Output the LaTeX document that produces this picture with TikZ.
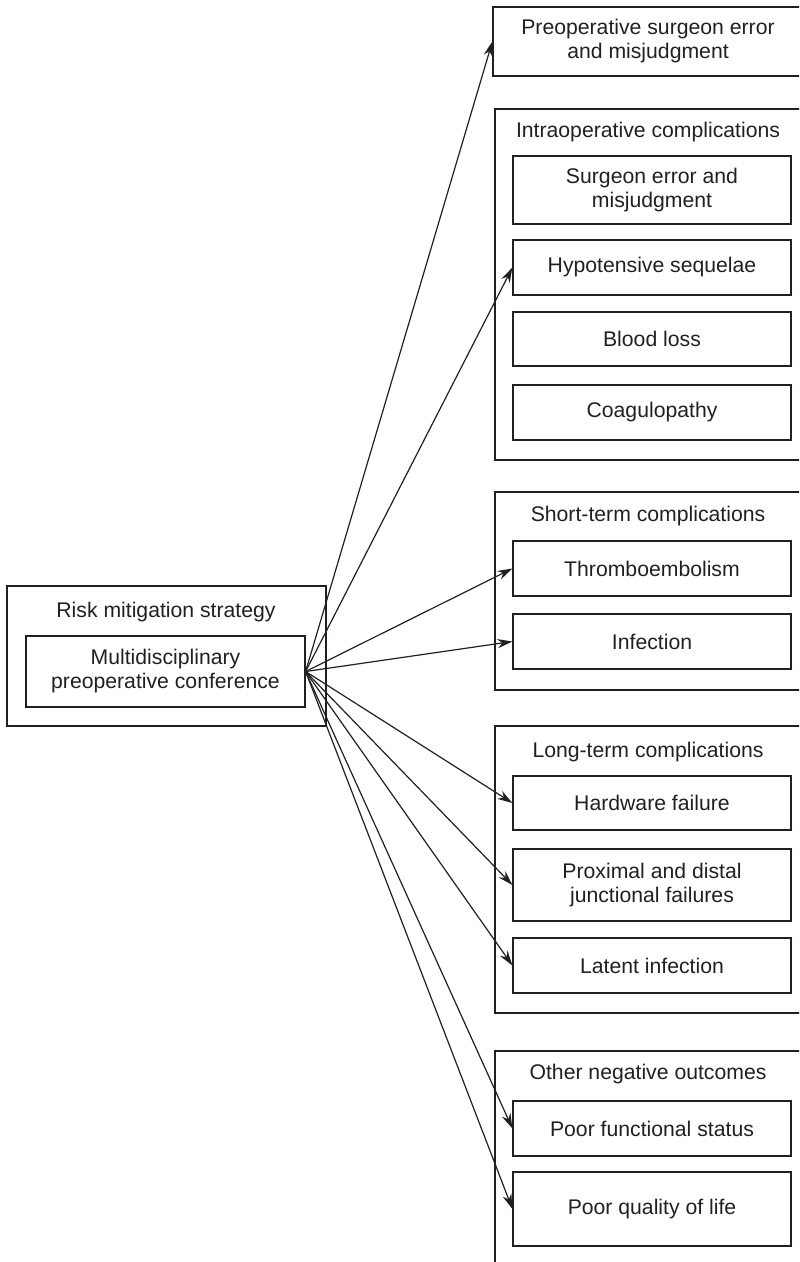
\documentclass[tikz,border=0pt]{standalone}
\usepackage{fontspec}
\setmainfont{Liberation Sans}
\usetikzlibrary{arrows.meta}
\definecolor{ink}{HTML}{231F20}
\begin{document}
\begin{tikzpicture}[x=0.5pt,y=-0.5pt,
  every node/.style={font=\fontsize{10.6}{12}\selectfont, text=ink},
  box/.style={draw=ink, line width=0.6pt, rectangle, inner sep=0pt, align=center},
  grp/.style={draw=ink, line width=0.6pt, rectangle, inner sep=0pt},
  ttl/.style={inner sep=0pt, anchor=center},
  arr/.style={draw=ink, line width=0.6pt, -{Stealth[length=7.5pt,width=4.6pt]}}]
\useasboundingbox (0,0) rectangle (799,1262);
\clip (0,0) rectangle (799,1262);
% left
\node[grp, minimum width=319*0.5pt, minimum height=140*0.5pt] (risk) at (166.5,656) {};
\node[ttl] (risktitle) at (166,612) {Risk mitigation strategy};
\node[box, minimum width=279*0.5pt, minimum height=71*0.5pt] (conf) at (165.5,671.5) {Multidisciplinary\\preoperative conference};
% preop
\node[box, minimum width=310*0.5pt, minimum height=69*0.5pt] (preop) at (648,41.5) {Preoperative surgeon error\\and misjudgment};
% intraop
\node[grp, minimum width=314*0.5pt, minimum height=351*0.5pt] (intra) at (652,284.5) {};
\node[ttl] (intratitle) at (648,132) {Intraoperative complications};
\node[box, minimum width=278*0.5pt, minimum height=68*0.5pt] (surg) at (652,190) {Surgeon error and\\misjudgment};
\node[box, minimum width=278*0.5pt, minimum height=55*0.5pt] (hypo) at (652,267.5) {Hypotensive sequelae};
\node[box, minimum width=278*0.5pt, minimum height=54*0.5pt] (blood) at (652,339) {Blood loss};
\node[box, minimum width=278*0.5pt, minimum height=55*0.5pt] (coag) at (652,412.5) {Coagulopathy};
% short
\node[grp, minimum width=314*0.5pt, minimum height=198*0.5pt] (short) at (652,591) {};
\node[ttl] (shorttitle) at (648,516) {Short-term complications};
\node[box, minimum width=278*0.5pt, minimum height=55*0.5pt] (thromb) at (652,568.5) {Thromboembolism};
\node[box, minimum width=278*0.5pt, minimum height=55*0.5pt] (infect) at (652,641.5) {Infection};
% long
\node[grp, minimum width=314*0.5pt, minimum height=287*0.5pt] (long) at (652,869.5) {};
\node[ttl] (longtitle) at (648,752) {Long-term complications};
\node[box, minimum width=278*0.5pt, minimum height=54*0.5pt] (hard) at (652,803) {Hardware failure};
\node[box, minimum width=278*0.5pt, minimum height=72*0.5pt] (prox) at (652,885) {Proximal and distal\\junctional failures};
\node[box, minimum width=278*0.5pt, minimum height=55*0.5pt] (latent) at (652,965.5) {Latent infection};
% other
\node[grp, minimum width=314*0.5pt, minimum height=260*0.5pt] (other) at (652,1181) {};
\node[ttl] (othertitle) at (648,1074) {Other negative outcomes};
\node[box, minimum width=278*0.5pt, minimum height=55*0.5pt] (pfunc) at (652,1128.5) {Poor functional status};
\node[box, minimum width=278*0.5pt, minimum height=74*0.5pt] (pqual) at (652,1209) {Poor quality of life};
% arrows
\foreach \t in {preop,hypo,thromb,infect,hard,prox,latent,pfunc,pqual}
  \draw[arr] (conf.east) -- (\t.west);
\end{tikzpicture}
\end{document}
